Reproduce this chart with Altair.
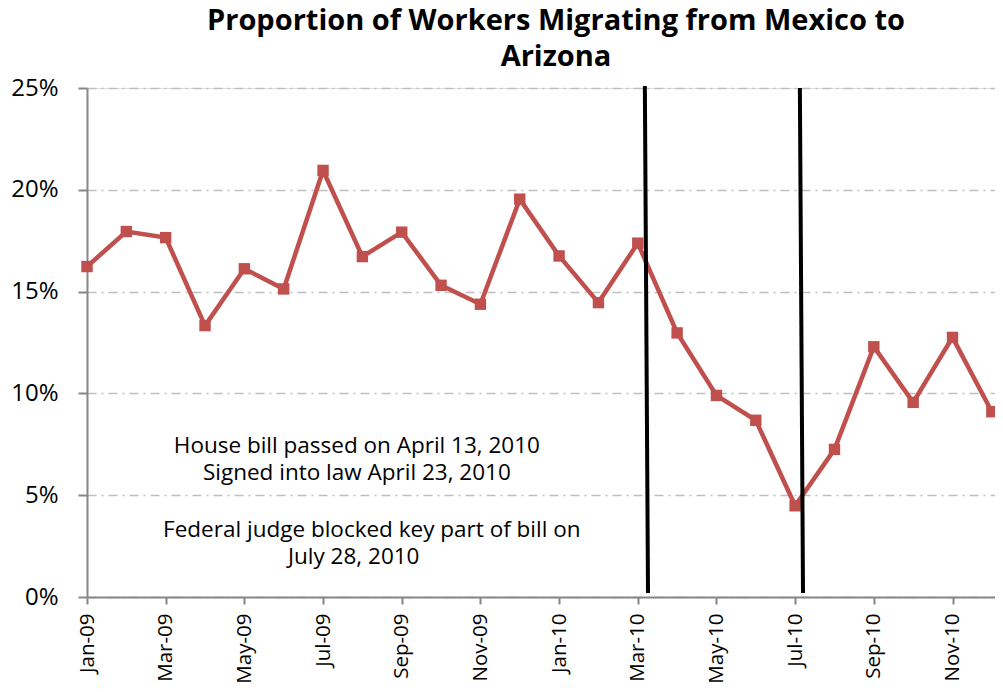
import altair as alt
import pandas as pd

months = ["Jan-09", "Feb-09", "Mar-09", "Apr-09", "May-09", "Jun-09", "Jul-09", "Aug-09",
          "Sep-09", "Oct-09", "Nov-09", "Dec-09", "Jan-10", "Feb-10", "Mar-10", "Apr-10",
          "May-10", "Jun-10", "Jul-10", "Aug-10", "Sep-10", "Oct-10", "Nov-10", "Dec-10"]
values = [16.23, 17.95, 17.65, 13.33, 16.12, 15.13, 20.95, 16.72,
          17.92, 15.31, 14.38, 19.54, 16.75, 14.46, 17.38, 12.97,
          9.90, 8.68, 4.48, 7.25, 12.29, 9.56, 12.75, 9.10]

# event lines (month index, percent) start/end
event_x = [14.18, 18.12]
event_x2 = [14.26, 18.20]
event_y = [25.1, 25.0]
event_y2 = [0.2, 0.2]

notes = ["House bill passed on April 13, 2010", "Signed into law April 23, 2010",
         "Federal judge blocked key part of bill on", "July 28, 2010"]
note_x = [6.86, 6.86, 7.24, 6.78]
note_y = [7.07, 5.75, 2.95, 1.62]

y_ticks = [0, 5, 10, 15, 20, 25]
x_ticks = list(range(0, 24, 2))

df = pd.DataFrame({"i": list(range(len(months))), "month": months, "v": values})
ev = pd.DataFrame({"x": event_x, "x2": event_x2, "y": event_y, "y2": event_y2})
nt = pd.DataFrame({"t": notes, "x": note_x, "y": note_y})

label_expr = "[" + ",".join("'" + m + "'" for m in months) + "][datum.value]"

FONT = "Open Sans"
xscale = alt.Scale(domain=[0, 23.08], nice=False, zero=False)
yscale = alt.Scale(domain=[0, 25], nice=False)

base = alt.Chart(df)

line = base.mark_line(color="#C0504D", strokeWidth=4.5).encode(
    x=alt.X("i:Q", scale=xscale, title=None,
            axis=alt.Axis(values=x_ticks, labelExpr=label_expr, labelAngle=270,
                          labelFontSize=20.5, labelFont=FONT, labelColor="#000000",
                          labelPadding=9, tickSize=7, tickColor="#868686",
                          domainColor="#868686", domainWidth=2, tickWidth=2,
                          grid=False, labelOverlap=False, labelFlush=False)),
    y=alt.Y("v:Q", scale=yscale, title=None,
            axis=alt.Axis(values=y_ticks, labelExpr="datum.value + '%'",
                          labelFontSize=24, labelFont=FONT, labelColor="#000000",
                          labelPadding=20, tickSize=9, tickColor="#868686", tickWidth=2,
                          domainColor="#868686", domainWidth=2,
                          grid=True, gridColor="#BFBFBF", gridWidth=1.5,
                          gridDash=[9, 5, 2, 5]))
)

points = base.mark_square(color="#C0504D", size=130, opacity=1).encode(
    x=alt.X("i:Q", scale=xscale),
    y=alt.Y("v:Q", scale=yscale)
)

rules = alt.Chart(ev).mark_rule(color="#000000", strokeWidth=4).encode(
    x=alt.X("x:Q", scale=xscale), x2="x2:Q",
    y=alt.Y("y:Q", scale=yscale), y2="y2:Q"
)

texts = alt.Chart(nt).mark_text(font=FONT, fontSize=22.5, color="#000000",
                                align="center", baseline="alphabetic").encode(
    x=alt.X("x:Q", scale=xscale),
    y=alt.Y("y:Q", scale=yscale),
    text="t:N"
)

chart = alt.layer(line, points, rules, texts).properties(
    width=908, height=509,
    title=alt.Title(["Proportion of Workers Migrating from Mexico to", "Arizona"],
                    font=FONT, fontSize=29, fontWeight="bold", color="#000000",
                    anchor="middle", offset=4, lineHeight=36, dx=15),
    autosize=alt.AutoSizeParams(type="none"),
    padding={"left": 79, "top": 80, "right": 0, "bottom": 87}
).configure_view(stroke=None).configure(background="#ffffff")

chart.save("out.html", embed_options={"renderer": "svg", "actions": False})
